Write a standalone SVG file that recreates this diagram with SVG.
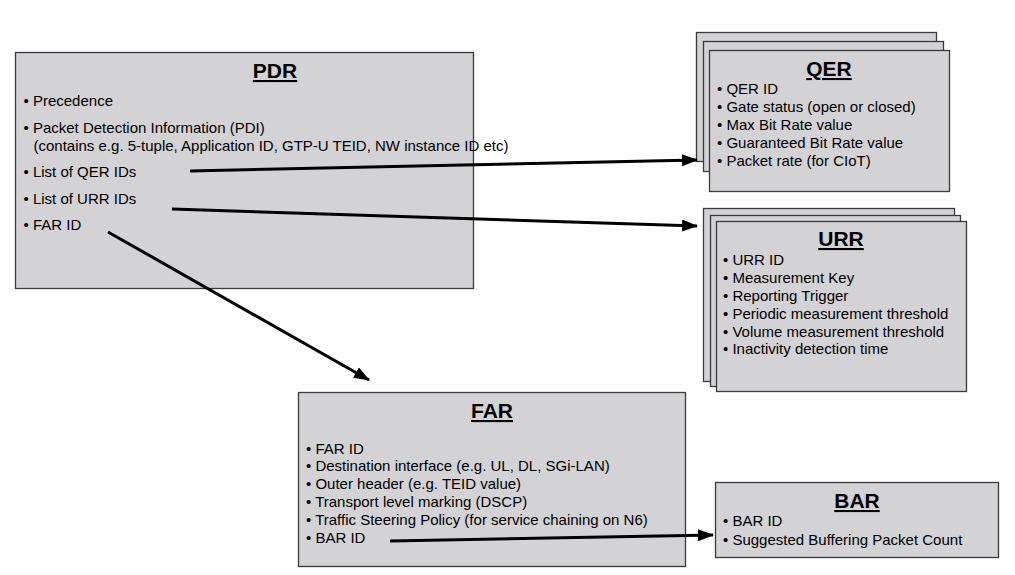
<svg xmlns="http://www.w3.org/2000/svg" width="1015" height="575" viewBox="0 0 1015 575">
  <style>
    .box { fill: #d3d3d5; stroke: #3a3a3a; stroke-width: 1.3; }
    .title { font-family: "Liberation Sans", Arial, sans-serif; font-size: 21px; font-weight: bold; text-decoration: underline; fill: #000; text-anchor: middle; }
    .item { font-family: "Liberation Sans", Arial, sans-serif; font-size: 15px; fill: #000; }
    .conn { stroke: #000; stroke-width: 3; fill: none; marker-end: url(#arrow); }
  </style>
  <defs>
    <marker id="arrow" markerUnits="userSpaceOnUse" markerWidth="16" markerHeight="12" refX="15" refY="6" orient="auto">
      <path d="M0,0 L16,6 L0,12 Z" fill="#000"/>
    </marker>
  </defs>
  <rect width="1015" height="575" fill="#fff"/>

  <g id="pdr">
    <rect class="box" x="15.5" y="52.5" width="458" height="236"/>
    <text class="title" x="275" y="78">PDR</text>
    <text class="item" x="23.5" y="106">• Precedence</text>
    <text class="item" x="23.5" y="133">• Packet Detection Information (PDI)</text>
    <text class="item" x="33.5" y="151">(contains e.g. 5-tuple, Application ID, GTP-U TEID, NW instance ID etc)</text>
    <text class="item" x="23.5" y="177">• List of QER IDs</text>
    <text class="item" x="23.5" y="204">• List of URR IDs</text>
    <text class="item" x="23.5" y="230">• FAR ID</text>
  </g>

  <g id="qer">
    <rect class="box" x="696.5" y="32.5" width="240" height="129"/>
    <rect class="box" x="703.5" y="41.5" width="240" height="130"/>
    <rect class="box" x="709.5" y="50.5" width="240" height="141"/>
    <text class="title" x="829" y="76">QER</text>
    <text class="item" x="717" y="94">• QER ID</text>
    <text class="item" x="717" y="112">• Gate status (open or closed)</text>
    <text class="item" x="717" y="130">• Max Bit Rate value</text>
    <text class="item" x="717" y="148">• Guaranteed Bit Rate value</text>
    <text class="item" x="717" y="166">• Packet rate (for CIoT)</text>
  </g>

  <g id="urr">
    <rect class="box" x="703.5" y="208.5" width="251" height="173"/>
    <rect class="box" x="710.5" y="215.5" width="250" height="171"/>
    <rect class="box" x="716.5" y="221.5" width="250" height="170"/>
    <text class="title" x="841" y="246">URR</text>
    <text class="item" x="723" y="265">• URR ID</text>
    <text class="item" x="723" y="283">• Measurement Key</text>
    <text class="item" x="723" y="301">• Reporting Trigger</text>
    <text class="item" x="723" y="319">• Periodic measurement threshold</text>
    <text class="item" x="723" y="337">• Volume measurement threshold</text>
    <text class="item" x="723" y="354">• Inactivity detection time</text>
  </g>

  <g id="far">
    <rect class="box" x="298.5" y="392.5" width="387" height="174"/>
    <text class="title" x="492" y="418">FAR</text>
    <text class="item" x="306" y="454">• FAR ID</text>
    <text class="item" x="306" y="471">• Destination interface (e.g. UL, DL, SGi-LAN)</text>
    <text class="item" x="306" y="489">• Outer header (e.g. TEID value)</text>
    <text class="item" x="306" y="507">• Transport level marking (DSCP)</text>
    <text class="item" x="306" y="525">• Traffic Steering Policy (for service chaining on N6)</text>
    <text class="item" x="306" y="543">• BAR ID</text>
  </g>

  <g id="bar">
    <rect class="box" x="715.5" y="482.5" width="283" height="75"/>
    <text class="title" x="857" y="508">BAR</text>
    <text class="item" x="723" y="526">• BAR ID</text>
    <text class="item" x="723" y="545">• Suggested Buffering Packet Count</text>
  </g>

  <g id="connectors">
    <line class="conn" x1="190" y1="171" x2="697" y2="160"/>
    <line class="conn" x1="172" y1="209" x2="697" y2="226"/>
    <line class="conn" x1="108" y1="232" x2="369" y2="380"/>
    <line class="conn" x1="390" y1="541" x2="713" y2="535"/>
  </g>
</svg>
